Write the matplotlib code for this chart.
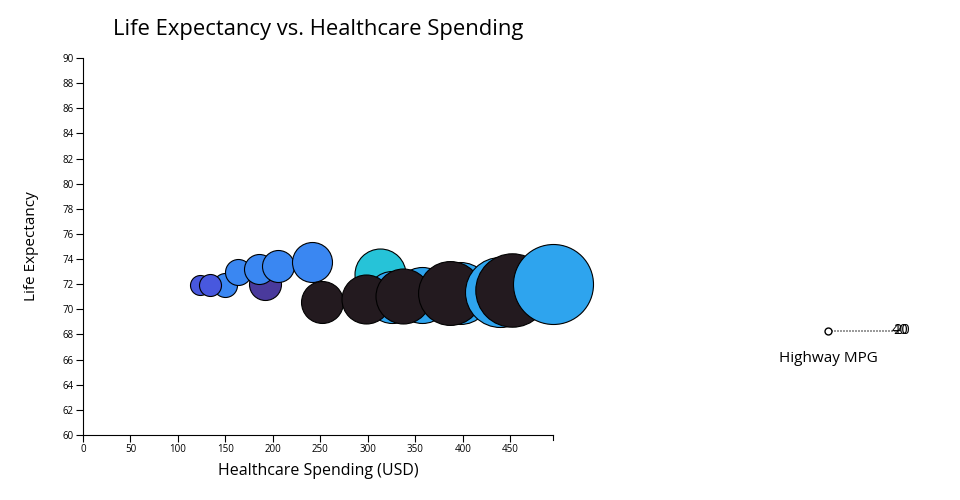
import matplotlib.pyplot as plt
import numpy as np
from matplotlib.lines import Line2D

plt.rcParams["font.family"] = ["Open Sans", "DejaVu Sans"]

# data, in drawing order (later points sit on top)
spending = [123, 150, 134, 163, 192, 185, 205, 241, 252, 313, 325, 298,
            357, 337, 397, 386, 439, 452, 495]
life_exp = [71.95, 71.95, 71.95, 72.95, 72.05, 73.2, 73.45, 73.75, 70.6, 72.8,
            71.0, 70.85, 71.15, 71.05, 71.3, 71.3, 71.4, 71.55, 72.0]
population = [10, 14.4, 12.1, 16.9, 25.6, 22.5, 25.6, 40, 44, 65,
              67.6, 60, 78.4, 75.6, 96, 102, 122.5, 134.7, 160]
region = ["South Asia", "East Asia", "South Asia", "East Asia", "Africa",
          "East Asia", "East Asia", "East Asia", "Europe", "Oceania",
          "Americas", "Europe", "Americas", "Europe", "Americas", "Europe",
          "Americas", "Europe", "Americas"]

region_colors = {
    "South Asia": "#4858de",
    "East Asia": "#3a87f2",
    "Africa": "#4a3a9c",
    "Europe": "#231a1f",
    "Oceania": "#26c3d8",
    "Americas": "#2ea4ee",
}

DPI = 100
R_MAX = 40  # radius in px of the largest bubble


def main() -> None:
    fig = plt.figure(figsize=(9.6, 5.0), dpi=DPI)
    ax = fig.add_axes([83 / 960, 65 / 500, 470 / 960, 377 / 500])

    pop = np.array(population)
    r_px = R_MAX * np.sqrt(pop / pop.max())
    sizes = (2 * r_px * 72 / DPI) ** 2
    colors = [region_colors[g] for g in region]
    for x, y, s, c in zip(spending, life_exp, sizes, colors):
        ax.scatter(x, y, s=s, c=c, edgecolors="black", linewidths=0.8,
                   clip_on=False)

    ax.set_xlim(0, max(spending))
    ax.set_ylim(60, 90)
    ax.set_xticks(np.arange(0, 451, 50))
    ax.set_yticks(np.arange(60, 91, 2))
    for side in ("top", "right"):
        ax.spines[side].set_visible(False)
    ax.tick_params(labelsize=7, length=5, width=0.8, pad=1.5)
    # outer end tick at the end of the x domain
    ax.plot([1, 1], [0, -5 / 377], transform=ax.transAxes, color="black",
            lw=0.8, clip_on=False)

    ax.set_xlabel("Healthcare Spending (USD)", fontsize=11.5, labelpad=6)
    ax.set_ylabel("Life Expectancy", fontsize=11, labelpad=17)
    fig.text(318 / 960, 1 - 30 / 500, "Life Expectancy vs. Healthcare Spending",
             ha="center", va="center", fontsize=15.8)

    # size legend (as drawn in the original)
    ly = 1 - 331 / 500
    fig.add_artist(Line2D([828 / 960, 897 / 960], [ly, ly], color="#888888",
                          lw=1.2, ls=(0, (1.2, 0.6))))
    fig.add_artist(Line2D([828 / 960], [ly], marker="o", ms=5, mfc="white",
                          mec="black", mew=1.0, ls="none"))
    fig.text(892 / 960, ly, "40", fontsize=10.5, va="center", ha="left")
    fig.text(893.5 / 960, ly, "20", fontsize=10.5, va="center", ha="left")
    fig.text(828 / 960, 1 - 359 / 500, "Highway MPG", fontsize=11,
             ha="center", va="center")

    fig.savefig("out.png", dpi=DPI)


if __name__ == "__main__":
    main()
